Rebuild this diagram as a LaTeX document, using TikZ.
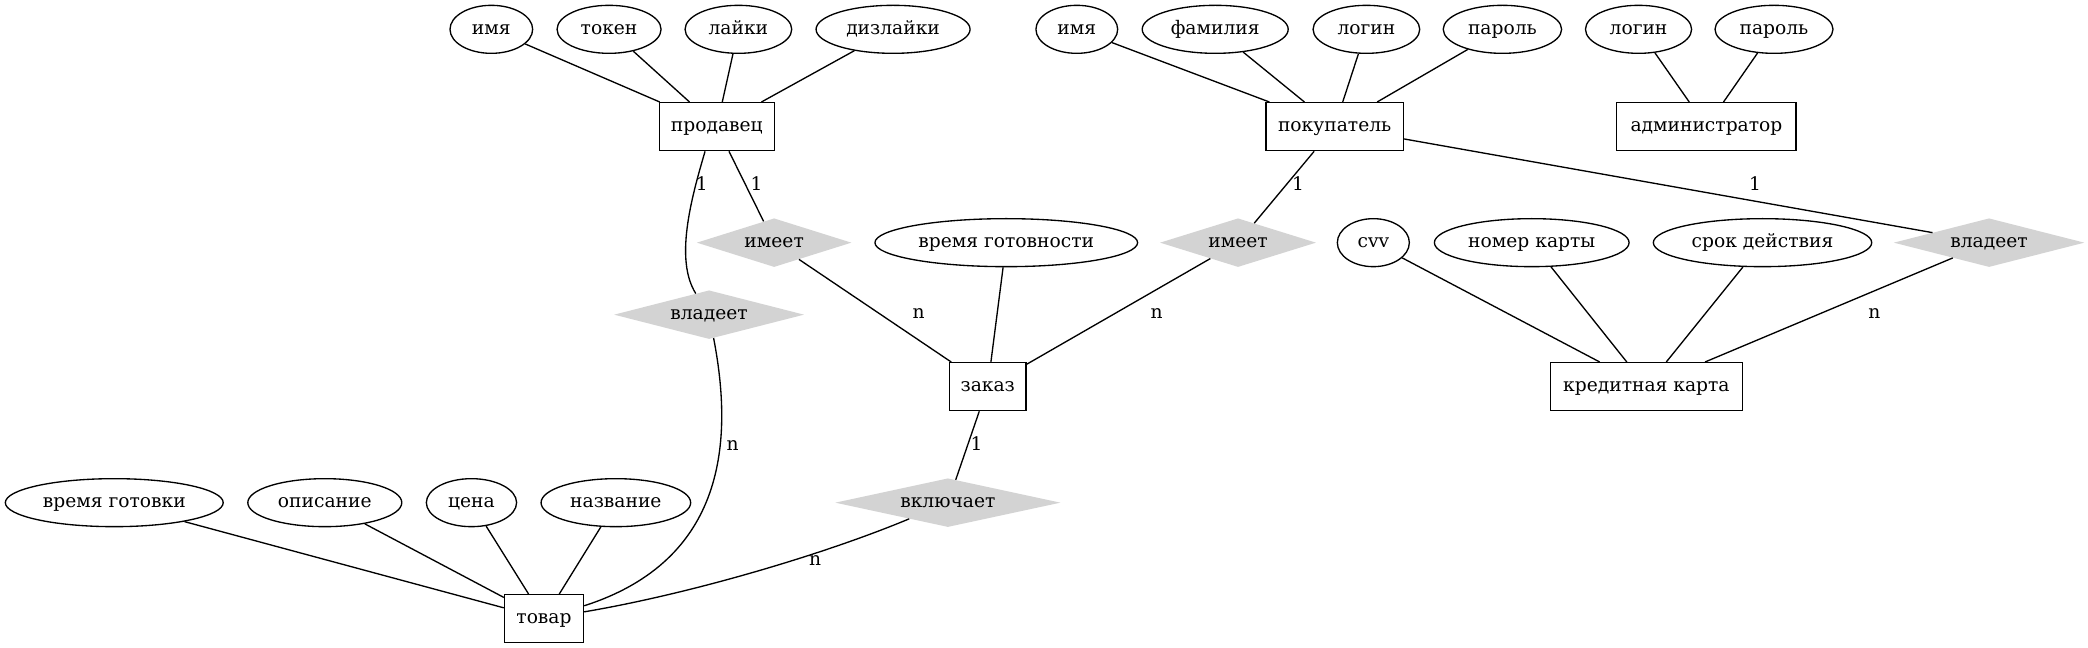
\documentclass[tikz,border=0pt]{standalone}
\usepackage{fontspec}
\setmainfont{DejaVu Serif}
\usetikzlibrary{shapes.geometric}
\definecolor{gvgray}{HTML}{D3D3D3}
\begin{document}
\begin{tikzpicture}[x=1pt,y=-1pt,
  every node/.style={font=\fontsize{14pt}{16pt}\selectfont, inner sep=0pt},
  attr/.style={ellipse, draw, line width=1pt, minimum height=36pt, text height=10pt, text depth=2.5pt},
  ent/.style={rectangle, draw, line width=1pt, minimum height=36pt, text height=10pt, text depth=2.5pt},
  rel/.style={diamond, fill=gvgray, minimum height=36.5pt, text height=10pt, text depth=2.5pt, aspect=4},
  lbl/.style={anchor=center},
  conn/.style={line width=1pt}
]
\path[use as bounding box] (0,0) rectangle (1566,486);

% entities
\node[ent, minimum width=86.3pt]  (prod) at (537.6,95) {продавец};
\node[ent, minimum width=103.2pt] (pok)  at (1001,95)  {покупатель};
\node[ent, minimum width=134.5pt] (adm)  at (1279.8,95) {администратор};
\node[ent, minimum width=57.5pt]  (zak)  at (740.8,290) {заказ};
\node[ent, minimum width=144.3pt] (kk)   at (1234.8,290) {кредитная карта};
\node[ent, minimum width=59.3pt]  (tov)  at (408,464) {товар};

% attributes row 1
\node[attr, minimum width=62pt]    (a1) at (368.5,22)  {имя};
\node[attr, minimum width=78pt]    (a2) at (456.8,22)  {токен};
\node[attr, minimum width=80pt]    (a3) at (553.8,22)  {лайки};
\node[attr, minimum width=115.5pt] (a4) at (669.8,22)  {дизлайки};
\node[attr, minimum width=61.3pt]  (b1) at (807.6,22)  {имя};
\node[attr, minimum width=109.5pt] (b2) at (911.4,22)  {фамилия};
\node[attr, minimum width=80pt]    (b3) at (1024.8,22) {логин};
\node[attr, minimum width=88.8pt]  (b4) at (1126.8,22) {пароль};
\node[attr, minimum width=79.6pt]  (c1) at (1228.9,22) {логин};
\node[attr, minimum width=88.5pt]  (c2) at (1330.5,22) {пароль};

% row 3
\node[rel, minimum width=116pt]    (im1) at (580.6,182) {имеет};
\node[attr, minimum width=197pt]   (vg)  at (754.7,182) {время готовности};
\node[rel, minimum width=117pt]    (im2) at (928.5,182) {имеет};
\node[attr, minimum width=54pt]    (cvv) at (1030,182)  {cvv};
\node[attr, minimum width=146pt]   (nk)  at (1148.8,182) {номер карты};
\node[attr, minimum width=163.8pt] (sd)  at (1321.9,182) {срок действия};
\node[rel, minimum width=143pt]    (vl2) at (1491.8,182) {владеет};

\node[rel, minimum width=142.5pt]  (vl1) at (531.8,236) {владеет};

% row 5
\node[attr, minimum width=163.4pt] (t1) at (85.7,377)  {время готовки};
\node[attr, minimum width=115.5pt] (t2) at (243.6,377) {описание};
\node[attr, minimum width=67.7pt]  (t3) at (353.6,377) {цена};
\node[attr, minimum width=112.2pt] (t4) at (461.9,377) {название};
\node[rel, minimum width=169pt, aspect=4.7] (vk) at (710.9,377) {включает};

% attribute connectors
\draw[conn] (a1) -- (prod);
\draw[conn] (a2) -- (prod);
\draw[conn] (a3) -- (prod);
\draw[conn] (a4) -- (prod);
\draw[conn] (b1) -- (pok);
\draw[conn] (b2) -- (pok);
\draw[conn] (b3) -- (pok);
\draw[conn] (b4) -- (pok);
\draw[conn] (c1) -- (adm);
\draw[conn] (c2) -- (adm);
\draw[conn] (vg) -- (zak);
\draw[conn] (cvv) -- (kk);
\draw[conn] (nk) -- (kk);
\draw[conn] (sd) -- (kk);
\draw[conn] (t1) -- (tov);
\draw[conn] (t2) -- (tov);
\draw[conn] (t3) -- (tov);
\draw[conn] (t4) -- (tov);

% relationship connectors
\draw[conn] ([xshift=-8.8pt]prod.south) .. controls (518,150) and (506,195) .. (vl1);
\draw[conn] (vl1) .. controls (550,330) and (545,420) .. (tov);
\draw[conn] (prod) -- (im1);
\draw[conn] (im1) -- (zak);
\draw[conn] (pok) -- (im2);
\draw[conn] (im2) -- (zak);
\draw[conn] (pok) -- (vl2);
\draw[conn] (vl2) -- (kk);
\draw[conn] (zak) -- (vk);
\draw[conn] (vk) .. controls (620,415) and (520,445) .. (tov);

% edge labels
\node[lbl] (l1) at (526.4,137.5) {1};
\node[lbl] (l2) at (567.5,137.5) {1};
\node[lbl] (l3) at (689,235.5) {n};
\node[lbl] (l4) at (973.5,137.5) {1};
\node[lbl] (l5) at (867.4,235.5) {n};
\node[lbl] (l6) at (1316.3,138) {1};
\node[lbl] (l7) at (1405.8,235.5) {n};
\node[lbl] (l8) at (549.5,333.8) {n};
\node[lbl] (l9) at (732.5,333) {1};
\node[lbl] (l10) at (611.3,420.5) {n};
\end{tikzpicture}
\end{document}
